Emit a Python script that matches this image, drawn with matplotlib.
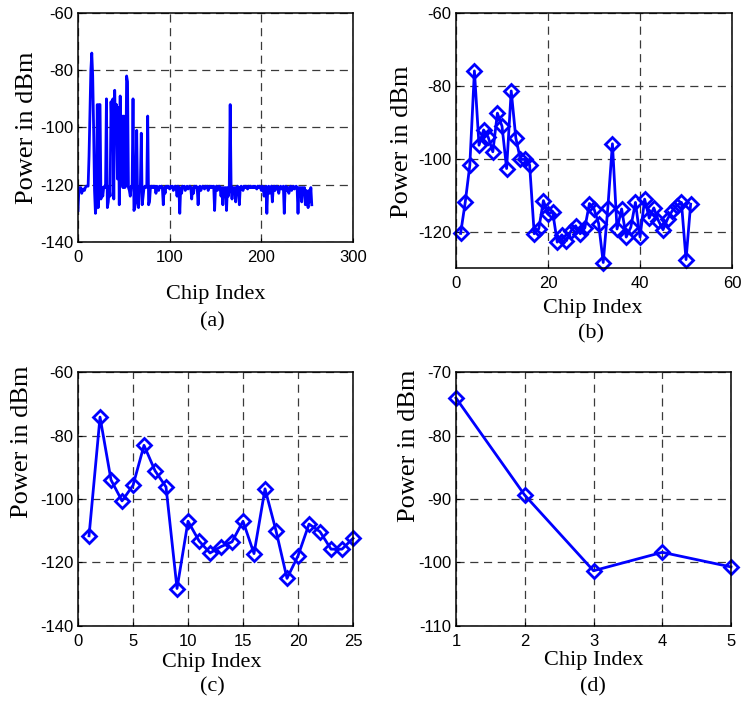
import numpy as np
import matplotlib
matplotlib.use("Agg")
import matplotlib.pyplot as plt

# ---------------- data ----------------
power_a = [
    -129, -121, -122, -121, -123, -122, -121.5, -122, -121, -120.5, -120.5, -120.5, -110, -95, -80, -74,
    -82, -100, -122, -130, -126, -92, -128, -92, -92, -125, -121, -124, -121, -120.5, -121, -90,
    -128, -126, -121, -124, -91, -102, -90, -125, -87, -103, -92, -118, -93, -127, -89, -120,
    -96, -121, -96, -121, -120.5, -82, -84, -121, -122, -124, -120.5, -121, -90, -129, -128, -121,
    -101, -126, -128, -121, -120.5, -102, -127, -124, -121, -120.5, -121, -120.5, -96, -127, -126, -121,
    -120.5, -121, -120.5, -121, -120.5, -123, -120.5, -121, -122, -120.5, -121, -120.5, -121, -127, -121, -123,
    -120.5, -121, -120.5, -121, -121.5, -120.5, -121, -120.5, -122, -121, -120.5, -121, -124, -120.5, -121, -130,
    -121, -123, -120.5, -121, -120.5, -122, -121, -120.5, -121.5, -121, -120.5, -121, -125, -121, -123, -120.5,
    -121, -120.5, -121, -127, -121, -120.5, -122, -121, -120.5, -121, -121.5, -120.5, -121, -120.5, -122, -121,
    -120.5, -121, -120.5, -121, -120.5, -129, -121, -120.5, -122, -121, -120.5, -121, -124, -121, -127, -121,
    -123, -121, -129, -121, -124, -121, -92, -121, -125, -121, -123, -121, -126, -121, -120.5, -121,
    -127, -121, -120.5, -121, -122, -120.5, -121, -120.5, -121, -121.5, -120.5, -121, -120.5, -121, -121, -120.5,
    -121, -120.5, -121, -121.5, -120.5, -121, -120.5, -121, -122, -120.5, -121, -124, -121, -120.5, -130, -121,
    -120.5, -123, -121, -120.5, -126, -121, -120.5, -122, -121, -120.5, -121, -123, -121, -120.5, -121.5, -121,
    -120.5, -130, -121, -120.5, -122, -121, -123, -121, -120.5, -122, -121, -120.5, -121.5, -121, -120.5, -121,
    -130, -121, -124, -121, -126, -121, -123, -121, -127, -122, -124, -128, -122, -126, -121, -127,
]

power_b = [
    -120.5, -112, -101.8, -75.9, -96.3, -92.1, -94.1, -98.1, -87.5, -91.1,
    -102.7, -81.4, -94.3, -100.2, -100.2, -101.7, -120.6, -119.2, -111.5, -115.2,
    -114.5, -122.9, -120.9, -122.5, -119.8, -118.4, -120.6, -119.0, -112.3, -113.8,
    -117.8, -128.5, -113.5, -95.9, -119.3, -113.8, -121.5, -118.8, -112.0, -121.5,
    -111.1, -116.3, -113.5, -117.0, -119.5, -116.5, -114.3, -112.9, -112.0, -127.7,
    -112.5,
]

power_c = [
    -111.6, -74.2, -94.0, -100.6, -95.7, -83.1, -91.1, -96.2, -128.2, -107.0,
    -113.2, -117.0, -115.0, -113.5, -107.0, -117.2, -96.8, -110.0, -125.0, -117.9,
    -107.9, -110.3, -115.8, -115.8, -112.4,
]

power_d = [-74.1, -89.4, -101.3, -98.4, -100.7]

xlabel_text = "Chip Index"
ylabel_text = "Power in dBm"
captions = ["(a)", "(b)", "(c)", "(d)"]

# ---------------- style ----------------
BLUE = "#0000ff"
tick_font = dict(family=["Liberation Sans", "DejaVu Sans"], size=12)
serif = ["Liberation Serif", "DejaVu Serif"]

fig = plt.figure(figsize=(7.41, 7.09), dpi=100)

axes_pos = [
    [0.1053, 0.6587, 0.3711, 0.3230],
    [0.6154, 0.6220, 0.3725, 0.3597],
    [0.1053, 0.1171, 0.3711, 0.3582],
    [0.6154, 0.1171, 0.3711, 0.3582],
]

settings = [
    dict(xlim=(0, 300), ylim=(-140, -60), xt=[0, 100, 200, 300], yt=[-140, -120, -100, -80, -60],
         xl=(0.5, -0.231), yl=(-0.186, 0.5), cap=(0.49, -0.348)),
    dict(xlim=(0, 60), ylim=(-130, -60), xt=[0, 20, 40, 60], yt=[-120, -100, -80, -60],
         xl=(0.495, -0.16), yl=(-0.197, 0.495), cap=(0.49, -0.258)),
    dict(xlim=(0, 25), ylim=(-140, -60), xt=[0, 5, 10, 15, 20, 25], yt=[-140, -120, -100, -80, -60],
         xl=(0.487, -0.145), yl=(-0.205, 0.726), cap=(0.487, -0.239)),
    dict(xlim=(1, 5), ylim=(-110, -70), xt=[1, 2, 3, 4, 5], yt=[-110, -100, -90, -80, -70],
         xl=(0.5, -0.135), yl=(-0.17, 0.71), cap=(0.498, -0.239)),
]

series = [power_a, power_b, power_c, power_d]

for i, (pos, st, vals) in enumerate(zip(axes_pos, settings, series)):
    ax = fig.add_axes(pos)
    if i == 0:
        x = np.arange(len(vals))
        ax.plot(x, vals, color=BLUE, lw=2.0)
    else:
        x = np.arange(1, len(vals) + 1)
        ax.plot(x, vals, color=BLUE, lw=2.0, marker="D", markersize=6.8,
                markerfacecolor="none", markeredgecolor=BLUE, markeredgewidth=2.0,
                clip_on=False)
    ax.set_xlim(*st["xlim"])
    ax.set_ylim(*st["ylim"])
    ax.set_xticks(st["xt"])
    ax.set_yticks(st["yt"])
    ax.set_xticklabels([str(v) for v in st["xt"]], fontdict=tick_font)
    ax.set_yticklabels([str(v) for v in st["yt"]], fontdict=tick_font)
    ax.tick_params(direction="in", length=3, width=0.8, pad=3.5)
    ax.tick_params(axis="x", pad=6)
    ax.grid(True, color="#3a3a3a", lw=0.9, linestyle=(0, (6.5, 4.5)))
    for sp in ax.spines.values():
        sp.set_linewidth(1.1)
        sp.set_color("black")
    ax.set_xlabel(xlabel_text, family=serif, fontsize=16, va="center")
    ax.xaxis.set_label_coords(*st["xl"])
    ax.set_ylabel(ylabel_text, family=serif, fontsize=19, va="center")
    ax.yaxis.set_label_coords(*st["yl"])
    ax.text(st["cap"][0], st["cap"][1], captions[i], transform=ax.transAxes,
            family=serif, fontsize=16, ha="center", va="center")

fig.savefig("out.png", dpi=100)
